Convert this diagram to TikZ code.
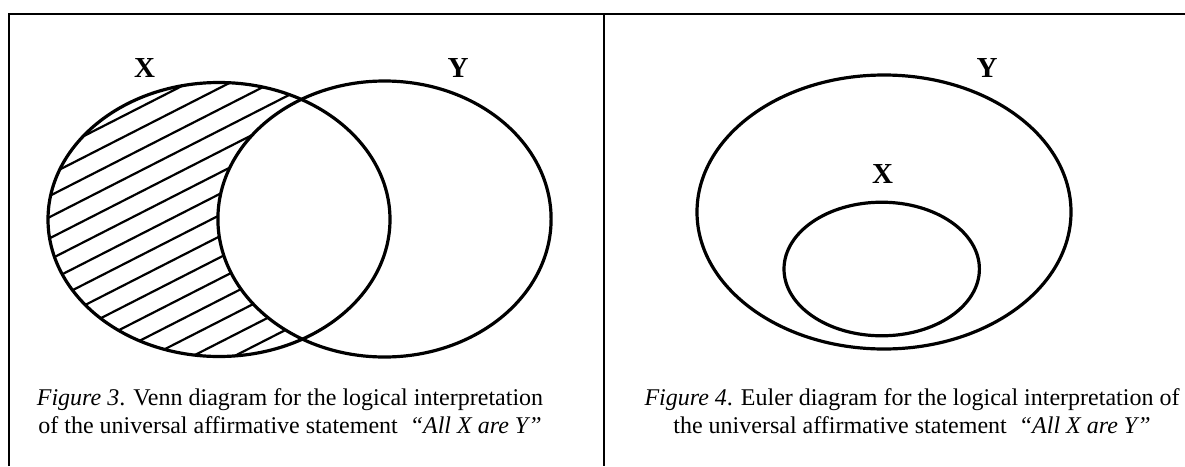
\documentclass[tikz,border=0pt]{standalone}
\usepackage{fontspec}
\setmainfont{Liberation Serif}
\usetikzlibrary{positioning}
\tikzset{
  setline/.style={line width=3.2pt},
  hatchline/.style={line width=2.2pt},
  framerule/.style={line width=2pt},
  setname/.style={font=\fontsize{29}{32}\selectfont\bfseries},
  figcaption/.style={font=\fontsize{24}{27.6}\selectfont, align=center, anchor=base}
}
\begin{document}
\begin{tikzpicture}[x=1pt, y=-1pt]
  \useasboundingbox (0,0) rectangle (1185,466);
  % frame
  \coordinate (ftl) at (8.7,14);
  \coordinate (fbl) at (8.7,466);
  \coordinate (ftm) at (603.7,14);
  \coordinate (fbm) at (603.7,466);
  \coordinate (ftr) at (1185,14);
  \path[draw, framerule] (fbl) -- (ftl) -- (ftr);
  \path[draw, framerule] (ftm) -- (fbm);
  % Venn diagram
  \coordinate (vx) at (219,219.5);
  \coordinate (vy) at (384.5,219);
  % hatching: X outside Y
  \begin{scope}
    \clip (vx) ellipse [x radius=171pt, y radius=137pt];
    \foreach \c in {0,...,14}
      \path[draw, hatchline] (20,168.6+21.2*\c) -- ++(400,-204);
  \end{scope}
  \path[fill=white] (vy) ellipse [x radius=166.6pt, y radius=138pt];
  \path[draw, setline] (vx) ellipse [x radius=171pt, y radius=137pt];
  \path[draw, setline] (vy) ellipse [x radius=166.6pt, y radius=138pt];
  \node[setname] (vxname) at (144.5,68) {X};
  \node[setname] (vyname) at (458,68) {Y};
  \node[figcaption] (cap3) at (290,433.3)
    {\textit{Figure 3}. Venn diagram for the logical interpretation\\
     of the universal affirmative statement \ \textit{“All X are Y”}};
  % Euler diagram
  \coordinate (ey) at (884,212);
  \coordinate (ex) at (881.7,269);
  \path[draw, setline] (ey) ellipse [x radius=187pt, y radius=137pt];
  \path[draw, setline] (ex) ellipse [x radius=97.7pt, y radius=66.8pt];
  \node[setname] (eyname) at (987,68) {Y};
  \node[setname] (exname) at (882.6,174.5) {X};
  \node[figcaption] (cap4) at (912,433.3)
    {\textit{Figure 4}. Euler diagram for the logical interpretation of\\
     the universal affirmative statement \ \textit{“All X are Y”}};
\end{tikzpicture}
\end{document}
